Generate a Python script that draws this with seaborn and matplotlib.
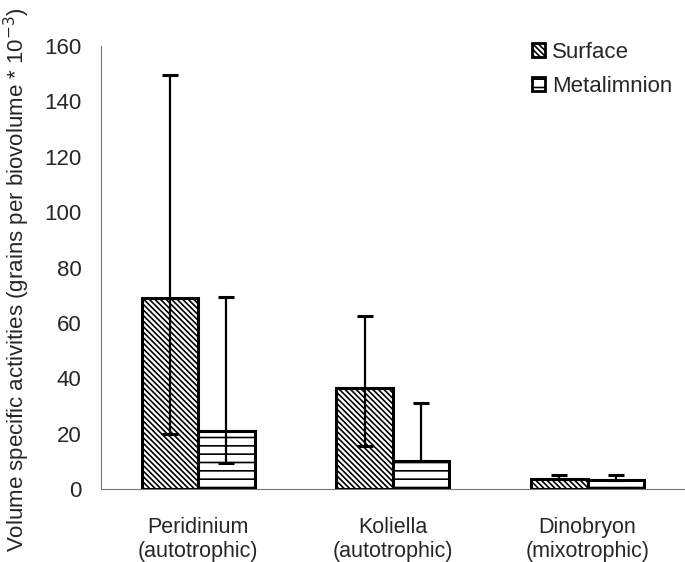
import matplotlib
matplotlib.use("Agg")
import matplotlib.pyplot as plt
from matplotlib.patches import Patch
import numpy as np
import pandas as pd
import seaborn as sns

# Mean volume specific activities with asymmetric error limits
categories = ["Peridinium\n(autotrophic)", "Koliella\n(autotrophic)", "Dinobryon\n(mixotrophic)"]
layers = ["Surface", "Metalimnion"]
surface_mean = [69.0, 36.5, 3.6]
surface_low = [20.0, 15.5, 3.6]
surface_high = [149.5, 62.5, 5.2]
metal_mean = [21.0, 10.2, 3.4]
metal_low = [9.5, 10.2, 3.4]
metal_high = [69.5, 31.2, 5.2]
y_ticks = [0, 20, 40, 60, 80, 100, 120, 140, 160]

df = pd.DataFrame({
    "group": categories * 2,
    "layer": [layers[0]] * 3 + [layers[1]] * 3,
    "value": surface_mean + metal_mean,
})

sns.set_style("white")
plt.rcParams["font.family"] = ["Liberation Sans", "DejaVu Sans"]
plt.rcParams["hatch.linewidth"] = 1.2
plt.rcParams["hatch.color"] = "black"

fig = plt.figure(figsize=(6.85, 5.62), dpi=100)
ax = fig.add_axes([0.147, 0.130, 0.853, 0.788])

sns.barplot(data=df, x="group", y="value", hue="layer", order=categories,
            hue_order=layers, palette=["white", "white"], width=0.58, gap=0,
            errorbar=None, edgecolor="black", linewidth=2.2, legend=False, ax=ax)

hatches = {"Surface": "\\\\\\\\\\\\", "Metalimnion": "--"}
lows = {"Surface": surface_low, "Metalimnion": metal_low}
highs = {"Surface": surface_high, "Metalimnion": metal_high}
means = {"Surface": surface_mean, "Metalimnion": metal_mean}

for container, layer in zip(ax.containers, layers):
    for i, bar in enumerate(container):
        bar.set_hatch(hatches[layer])
        xc = bar.get_x() + bar.get_width() / 2
        m = means[layer][i]
        lo = m - lows[layer][i]
        hi = highs[layer][i] - m
        ax.errorbar(xc, m, yerr=[[lo], [hi]], fmt="none", ecolor="black",
                    elinewidth=1.6, capsize=6, capthick=2.2, zorder=5)

ax.set_xlim(-0.5, 2.5)
ax.set_ylim(0, 160)
ax.set_yticks(y_ticks)
ax.set_yticklabels([str(t) for t in y_ticks], fontsize=16)
ax.set_xticks(range(len(categories)))
ax.set_xticklabels(categories, fontsize=15.5, linespacing=1.2)
ax.tick_params(axis="x", length=0, pad=20)
ax.tick_params(axis="y", length=5, width=0.8, color="#777777", pad=9, direction="out")
ax.set_xlabel("")
ax.set_ylabel("")
fig.text(17 / 685, 1 - 280 / 562,
         "Volume specific activities (grains per biovolume * 10$^{-3}$)",
         rotation=90, ha="center", va="center", fontsize=16)

sns.despine(ax=ax)
for side in ("left", "bottom"):
    ax.spines[side].set_color("#777777")
    ax.spines[side].set_linewidth(0.8)

handles = [Patch(facecolor="white", edgecolor="black", linewidth=2, hatch=hatches[l]) for l in layers]
ax.legend(handles, layers, loc="upper right", bbox_to_anchor=(1.012, 1.055), frameon=False,
          fontsize=16, handlelength=0.6, handleheight=0.6, handletextpad=0.3,
          labelspacing=0.6)

fig.savefig("out.png", dpi=100)
